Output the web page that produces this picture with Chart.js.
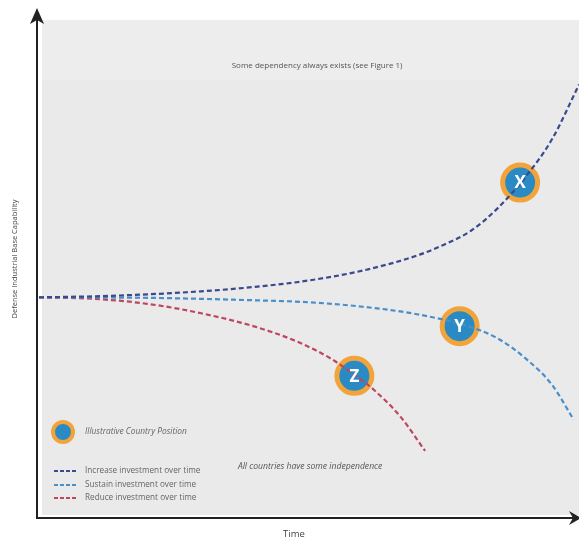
<!DOCTYPE html>
<html>
<head>
<meta charset="utf-8">
<script src="https://cdn.jsdelivr.net/npm/chart.js@4/dist/chart.umd.min.js"></script>
<style>
  html, body { margin: 0; padding: 0; background: #fff; overflow: hidden; }
  #wrap { width: 579px; height: 542px; position: relative; }
</style>
</head>
<body>
<div id="wrap"><canvas id="chart"></canvas></div>
<script>
// Data (time 0-100, capability 0-100)
const increaseX = [0, 10, 20, 30, 40, 50, 60, 70, 75, 80, 85, 90, 95, 100];
const increaseY = [44.2, 44.4, 44.8, 45.4, 46.3, 47.6, 49.6, 52.6, 54.8, 57.6, 62.2, 68.3, 76, 87];

const sustainX = [0, 20, 40, 50, 60, 70, 80, 85, 90, 95, 99];
const sustainY = [44.2, 44.1, 43.6, 43.2, 42.3, 40.8, 38.2, 35.9, 32, 26.6, 19.6];

const reduceX = [0, 10, 20, 30, 40, 48, 54, 58.4, 62, 67, 71.5];
const reduceY = [44.2, 43.9, 42.9, 41.0, 38.3, 35.2, 31.9, 28.6, 25.6, 20.1, 13.3];

const countryLabels = ['X', 'Y', 'Z'];
const countryX = [89.1, 77.9, 58.4];
const countryY = [67.3, 38.4, 28.4];

const seriesNames = ['Increase investment over time', 'Sustain investment over time', 'Reduce investment over time'];
const seriesColors = ['#3b4a8c', '#4a8fcc', '#bf4660'];

const FONT = '"Open Sans", "DejaVu Sans", sans-serif';
const toPts = (xs, ys) => xs.map((x, i) => ({ x: x, y: ys[i] }));

const lineDs = (label, pts, color) => ({
    type: 'line',
    label: label,
    data: pts,
    borderColor: color,
    borderWidth: 2.2,
    borderDash: [5, 3],
    pointRadius: 0,
    fill: false,
    cubicInterpolationMode: 'monotone'
});

// background, axes with arrows, texts and legend
const decoPlugin = {
    id: 'deco',
    beforeDatasetsDraw(chart) {
        const { ctx, chartArea: a, scales: { x, y } } = chart;
        ctx.save();
        ctx.fillStyle = '#eaeaea';
        ctx.fillRect(a.left + 3, a.top, a.right - a.left - 3, a.bottom - a.top - 2);
        ctx.fillStyle = '#ededed';
        ctx.fillRect(a.left + 3, a.top, a.right - a.left - 3, y.getPixelForValue(88) - a.top);

        ctx.fillStyle = '#555';
        ctx.textAlign = 'center';
        ctx.textBaseline = 'middle';
        ctx.font = '8px ' + FONT;
        ctx.fillText('Some dependency always exists (see Figure 1)', x.getPixelForValue(51.5), y.getPixelForValue(90.9));
        ctx.font = 'italic 8.6px ' + FONT;
        ctx.fillText('All countries have some independence', x.getPixelForValue(50.2), y.getPixelForValue(10.2));
        ctx.restore();
    },
    afterDraw(chart) {
        const { ctx, chartArea: a } = chart;
        ctx.save();
        // axes
        ctx.strokeStyle = '#222';
        ctx.fillStyle = '#222';
        ctx.lineWidth = 2;
        ctx.beginPath();
        ctx.moveTo(a.left - 2, a.bottom + 1);
        ctx.lineTo(a.left - 2, 20);
        ctx.moveTo(a.left - 3, a.bottom + 1);
        ctx.lineTo(a.right - 4, a.bottom + 1);
        ctx.stroke();
        ctx.beginPath();
        ctx.moveTo(a.left - 2, 8);
        ctx.lineTo(a.left - 9, 24);
        ctx.lineTo(a.left - 2, 20);
        ctx.lineTo(a.left + 5, 24);
        ctx.closePath();
        ctx.fill();
        ctx.beginPath();
        ctx.moveTo(a.right + 2, a.bottom + 1);
        ctx.lineTo(a.right - 10, a.bottom - 6);
        ctx.lineTo(a.right - 6, a.bottom + 1);
        ctx.lineTo(a.right - 10, a.bottom + 8);
        ctx.closePath();
        ctx.fill();

        // axis titles
        ctx.fillStyle = '#444';
        ctx.textAlign = 'center';
        ctx.textBaseline = 'middle';
        ctx.font = '9.5px ' + FONT;
        ctx.fillText('Time', 294, 534);
        ctx.save();
        ctx.translate(15, 259);
        ctx.rotate(-Math.PI / 2);
        ctx.font = '7.5px ' + FONT;
        ctx.fillText('Defense Industrial Base Capability', 0, 0);
        ctx.restore();

        // legend
        ctx.textAlign = 'left';
        ctx.fillStyle = '#2a8bc4';
        ctx.strokeStyle = '#f2a43a';
        ctx.lineWidth = 4;
        ctx.beginPath();
        ctx.arc(63, 432, 10, 0, Math.PI * 2);
        ctx.fill();
        ctx.stroke();
        ctx.fillStyle = '#666';
        ctx.font = 'italic 8.4px ' + FONT;
        ctx.fillText('Illustrative Country Position', 85, 432);
        const rows = [471, 485, 498];
        seriesNames.forEach((name, i) => {
            ctx.strokeStyle = seriesColors[i];
            ctx.lineWidth = 2;
            ctx.setLineDash([4, 2]);
            ctx.beginPath();
            ctx.moveTo(54, rows[i]);
            ctx.lineTo(78, rows[i]);
            ctx.stroke();
            ctx.setLineDash([]);
            ctx.fillStyle = '#666';
            ctx.font = '8.2px ' + FONT;
            ctx.fillText(name, 85, rows[i]);
        });
        ctx.restore();
    }
};

// letters on the country markers
const letterPlugin = {
    id: 'letters',
    afterDatasetsDraw(chart) {
        const meta = chart.getDatasetMeta(3);
        const { ctx } = chart;
        ctx.save();
        ctx.fillStyle = '#fff';
        ctx.font = 'bold 17px ' + FONT;
        ctx.textAlign = 'center';
        ctx.textBaseline = 'middle';
        meta.data.forEach((pt, i) => {
            ctx.fillText(countryLabels[i], pt.x, pt.y + 1);
        });
        ctx.restore();
    }
};

new Chart(document.getElementById('chart'), {
    type: 'scatter',
    data: {
        datasets: [
            lineDs(seriesNames[0], toPts(increaseX, increaseY), seriesColors[0]),
            lineDs(seriesNames[1], toPts(sustainX, sustainY), seriesColors[1]),
            lineDs(seriesNames[2], toPts(reduceX, reduceY), seriesColors[2]),
            {
                type: 'scatter',
                label: 'Illustrative Country Position',
                data: toPts(countryX, countryY),
                pointRadius: 17.5,
                pointBackgroundColor: '#2a8bc4',
                pointBorderColor: '#f2a43a',
                pointBorderWidth: 5
            }
        ]
    },
    options: {
        responsive: true,
        maintainAspectRatio: false,
        animation: false,
        layout: { autoPadding: false, padding: { left: 39, top: 20, right: 0, bottom: 25 } },
        plugins: { legend: { display: false }, tooltip: { enabled: false } },
        scales: {
            x: { type: 'linear', display: false, min: 0, max: 100 },
            y: { type: 'linear', display: false, min: 0, max: 100 }
        }
    },
    plugins: [decoPlugin, letterPlugin]
});
</script>
</body>
</html>
